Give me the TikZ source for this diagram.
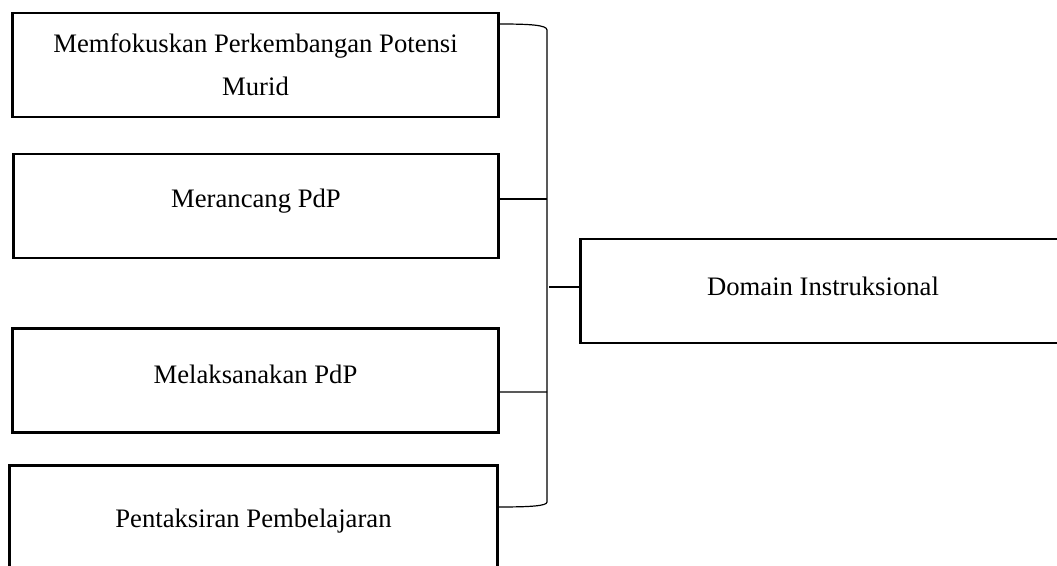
\documentclass[tikz,border=0pt]{standalone}
\usepackage{fontspec}
\setmainfont{Liberation Serif}

\begin{document}
\begin{tikzpicture}[x=0.75pt, y=-0.75pt,
    box/.style = {draw, line width=2.2pt, minimum width=364pt, minimum height=78pt,
        inner sep=0pt, align=center, font=\fontsize{20}{32}\selectfont},
    link/.style = {line width=0.9pt}]
    \useasboundingbox (0,0) rectangle (1057,565);

    \node[box] (fokus) at (255.5,65) {Memfokuskan Perkembangan Potensi\\Murid};
    \node[box, text depth=11.8pt] (rancang) at (256,206) {Merancang PdP};
    \node[box, text depth=9pt] (laksana) at (255.5,380.5) {Melaksanakan PdP};
    \node[box, minimum width=366pt, text height=19.7pt] (taksir) at (253.5,517.5) {Pentaksiran Pembelajaran};
    \node[box, text depth=7.5pt] (domain) at (823,291) {Domain Instruksional};

    % bracket
    \coordinate (spinetop) at (547,30);
    \coordinate (spinebot) at (547,502);
    \draw[link] ([yshift=30.75pt]fokus.east) .. controls (530,24) and (547,25) .. (spinetop)
        -- (spinebot) .. controls (547,506) and (530,507) .. ([yshift=7.9pt]taksir.east);
    \draw[link] ([yshift=5.25pt]rancang.east) -- (spinetop |- 0,199);
    \draw[link] ([yshift=-8.6pt]laksana.east) -- (spinetop |- 0,392);
    \draw[link] (549,287) coordinate (spinemid) -- ([yshift=3pt]domain.west);
\end{tikzpicture}
\end{document}
